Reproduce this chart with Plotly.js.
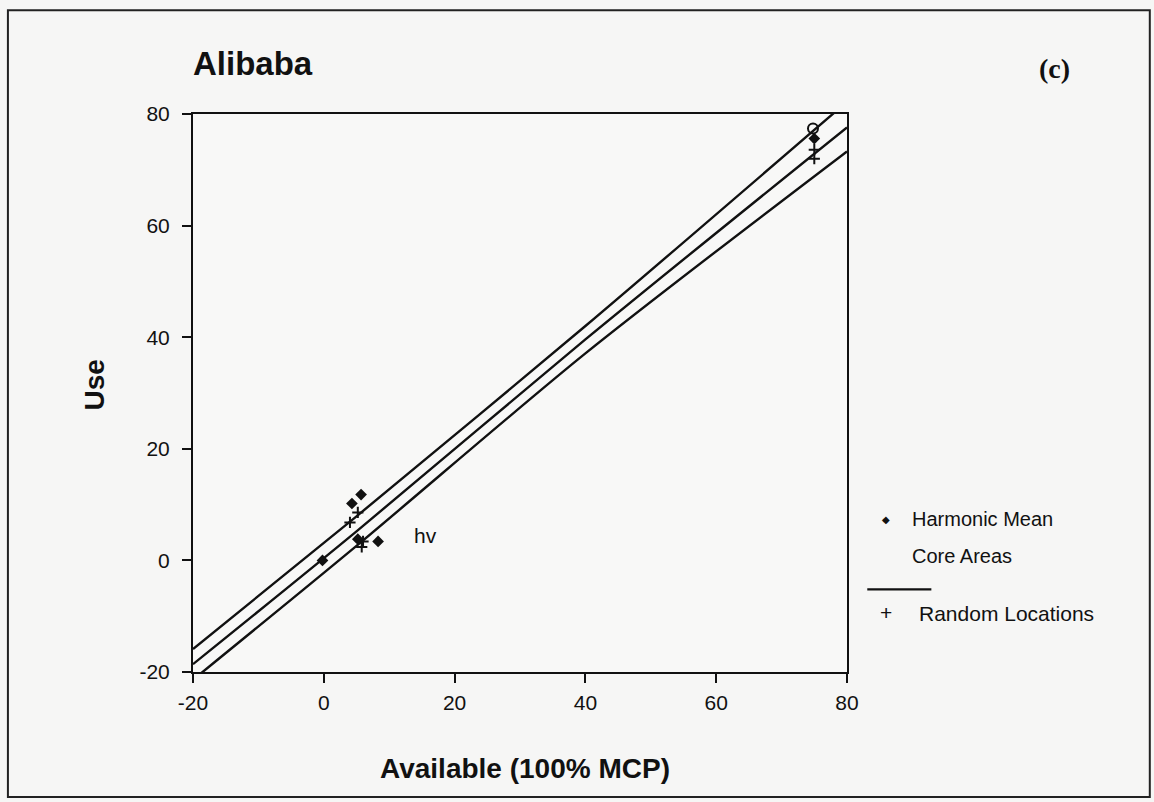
<!DOCTYPE html>
<html><head><meta charset="utf-8">
<script src="https://cdn.plot.ly/plotly-3.0.1.min.js"></script>
<style>html,body{margin:0;padding:0;background:#f6f6f5;}#chart{width:1154px;height:802px;}</style>
</head><body><div id="chart"></div>
<script>
// Harmonic mean core-area points (diamonds)
const hmX = [-0.2, 4.3, 5.7, 5.2, 8.3, 75.0];
const hmY = [0.0, 10.2, 11.8, 3.8, 3.4, 75.6];
// Random locations (+)
const rlX = [4.0, 5.2, 6.0, 5.8, 75.0, 75.0];
const rlY = [6.8, 8.6, 3.4, 2.4, 73.6, 72.0];
// Core area (open circle, top right)
const caX = [74.8];
const caY = [77.4];
// Fitted line and its bands
const lineX = [-20, 5, 40, 80];
const fitY = [-18.6, 5.2, 39.6, 77.6];
const upperY = [-15.9, 7.9, 42.0, 82.2];
const lowerY = [-21.4, 2.6, 37.1, 73.3];
const xTicks = [-20, 0, 20, 40, 60, 80];
const yTicks = [-20, 0, 20, 40, 60, 80];

const F = '"Liberation Sans Narrow", "Liberation Sans", Arial, sans-serif';
const lineStyle = {color: '#111', width: 2.4, shape: 'spline', smoothing: 0.8};
const traces = [
  {x: lineX, y: upperY, mode: 'lines', line: lineStyle, hoverinfo: 'skip'},
  {x: lineX, y: fitY, mode: 'lines', line: lineStyle, hoverinfo: 'skip'},
  {x: lineX, y: lowerY, mode: 'lines', line: lineStyle, hoverinfo: 'skip'},
  {x: hmX, y: hmY, mode: 'markers', name: 'Harmonic Mean Core Areas',
   marker: {symbol: 'diamond', size: 9, color: '#111'}},
  {x: rlX, y: rlY, mode: 'markers', name: 'Random Locations',
   marker: {symbol: 'cross-thin', size: 8, color: '#111', line: {color: '#111', width: 2}}},
  {x: caX, y: caY, mode: 'markers', name: 'Core',
   marker: {symbol: 'circle-open', size: 10, color: '#111', line: {color: '#111', width: 2}}}
];

const axisCommon = {
  showgrid: false, zeroline: false, showline: true, linecolor: '#111', linewidth: 2,
  mirror: true, ticks: 'outside', ticklen: 9, tickwidth: 2, tickcolor: '#111',
  tickfont: {family: F, size: 21, color: '#111'}
};

const layout = {
  width: 1154, height: 802,
  paper_bgcolor: '#f6f6f5', plot_bgcolor: '#f8f8f7',
  showlegend: false,
  margin: {l: 193, r: 307, t: 114, b: 130},
  xaxis: Object.assign({}, axisCommon, {range: [-20, 80], tickvals: xTicks, ticktext: xTicks.map(String), ticklabelstandoff: 2}),
  yaxis: Object.assign({}, axisCommon, {range: [-20, 80], tickvals: yTicks, ticktext: yTicks.map(String), ticklabelstandoff: 8}),
  shapes: [
    {type: 'rect', xref: 'paper', yref: 'paper', x0: -0.283, x1: 1.463, y0: -0.224, y1: 1.186,
     line: {color: '#222', width: 2}},
    {type: 'line', xref: 'paper', yref: 'paper', x0: 1.031, x1: 1.129, y0: 0.148, y1: 0.148,
     line: {color: '#111', width: 2.4}}
  ],
  annotations: [
    {text: '<b>Alibaba</b>', xref: 'paper', yref: 'paper', x: -0.003, y: 1.09, xanchor: 'left', yanchor: 'middle',
     showarrow: false, font: {family: F, size: 33, color: '#111'}},
    {text: '<b>(c)</b>', xref: 'paper', yref: 'paper', x: 1.318, y: 1.082, xanchor: 'center', yanchor: 'middle',
     showarrow: false, font: {family: '"Liberation Serif", "Times New Roman", serif', size: 28, color: '#111'}},
    {text: '<b>Use</b>', xref: 'paper', yref: 'paper', x: -0.15, y: 0.515, textangle: -90, xanchor: 'center', yanchor: 'middle',
     showarrow: false, font: {family: F, size: 28, color: '#111'}},
    {text: '<b>Available (100% MCP)</b>', xref: 'paper', yref: 'paper', x: 0.508, y: -0.173, xanchor: 'center', yanchor: 'middle',
     showarrow: false, font: {family: F, size: 28, color: '#111'}},
    {text: 'hv', xref: 'x', yref: 'y', x: 15.5, y: 4.4, xanchor: 'center', yanchor: 'middle',
     showarrow: false, font: {family: F, size: 21, color: '#111'}},
    {text: '◆', xref: 'paper', yref: 'paper', x: 1.06, y: 0.274, xanchor: 'center', yanchor: 'middle',
     showarrow: false, font: {family: 'DejaVu Sans', size: 10, color: '#111'}},
    {text: 'Harmonic Mean', xref: 'paper', yref: 'paper', x: 1.097, y: 0.274, xanchor: 'left', yanchor: 'middle',
     showarrow: false, font: {family: F, size: 20, color: '#111'}},
    {text: 'Core Areas', xref: 'paper', yref: 'paper', x: 1.097, y: 0.207, xanchor: 'left', yanchor: 'middle',
     showarrow: false, font: {family: F, size: 20, color: '#111'}},
    {text: '+', xref: 'paper', yref: 'paper', x: 1.06, y: 0.107, xanchor: 'center', yanchor: 'middle',
     showarrow: false, font: {family: F, size: 21, color: '#111'}},
    {text: 'Random Locations', xref: 'paper', yref: 'paper', x: 1.107, y: 0.104, xanchor: 'left', yanchor: 'middle',
     showarrow: false, font: {family: F, size: 21, color: '#111'}}
  ]
};

Plotly.newPlot('chart', traces, layout, {displayModeBar: false, staticPlot: true});
</script>
</body></html>
